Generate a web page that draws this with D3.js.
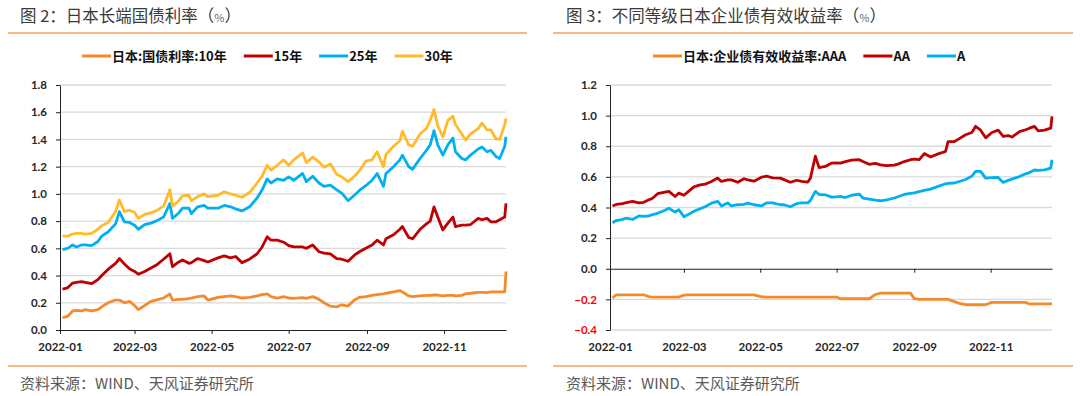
<!DOCTYPE html>
<html>
<head>
<meta charset="utf-8">
<script src="https://cdn.jsdelivr.net/npm/d3@7"></script>
<style>
    body { margin: 0; background: #fff; }
    svg { display: block; }
</style>
</head>
<body>
<svg id="chart" width="1080" height="396"></svg>
<script>
// 图2：日本长端国债利率（%）
const jgbDates = [
    '01-03', '01-07', '01-11', '01-14', '01-18', '01-21', '01-26', '01-31', '02-03', '02-08',
    '02-14', '02-17', '02-21', '02-25', '03-01', '03-04', '03-09', '03-14', '03-18', '03-24',
    '03-29', '03-31', '04-05', '04-08', '04-13', '04-15', '04-20', '04-25', '04-28', '05-06',
    '05-11', '05-16', '05-20', '05-25', '05-31', '06-06', '06-10', '06-14', '06-17', '06-22',
    '06-27', '07-01', '07-05', '07-12', '07-15', '07-20', '07-25', '07-29', '08-03', '08-08',
    '08-12', '08-17', '08-22', '08-26', '08-31', '09-05', '09-09', '09-14', '09-16', '09-22',
    '09-27', '09-29', '10-04', '10-07', '10-13', '10-18', '10-21', '10-24', '10-27', '10-31',
    '11-04', '11-08', '11-10', '11-15', '11-18', '11-22', '11-28', '12-01', '12-05', '12-08',
    '12-12', '12-15', '12-19', '12-20'
];
const jgb10 = [
    0.09, 0.10, 0.14, 0.145, 0.14, 0.15, 0.14, 0.15, 0.17, 0.20,
    0.22, 0.22, 0.20, 0.21, 0.18, 0.15, 0.18, 0.21, 0.22, 0.235,
    0.265, 0.22, 0.225, 0.225, 0.23, 0.235, 0.245, 0.25, 0.22, 0.24,
    0.245, 0.25, 0.245, 0.235, 0.24, 0.25, 0.26, 0.265, 0.245, 0.235,
    0.245, 0.235, 0.233, 0.238, 0.233, 0.245, 0.225, 0.20, 0.175, 0.17,
    0.185, 0.176, 0.22, 0.24, 0.245, 0.255, 0.26, 0.265, 0.27, 0.28,
    0.29, 0.28, 0.25, 0.245, 0.25, 0.255, 0.255, 0.257, 0.257, 0.25,
    0.255, 0.255, 0.25, 0.255, 0.265, 0.27, 0.277, 0.277, 0.275, 0.28,
    0.28, 0.28, 0.28, 0.43
];
const jgb15 = [
    0.30, 0.31, 0.345, 0.35, 0.355, 0.35, 0.34, 0.37, 0.40, 0.445,
    0.49, 0.525, 0.485, 0.45, 0.43, 0.41, 0.43, 0.455, 0.475, 0.52,
    0.56, 0.465, 0.50, 0.515, 0.49, 0.495, 0.525, 0.51, 0.50, 0.53,
    0.545, 0.53, 0.54, 0.495, 0.52, 0.56, 0.61, 0.685, 0.66, 0.66,
    0.645, 0.62, 0.61, 0.61, 0.60, 0.625, 0.575, 0.565, 0.56, 0.525,
    0.52, 0.505, 0.55, 0.575, 0.60, 0.625, 0.66, 0.625, 0.67, 0.70,
    0.74, 0.76, 0.68, 0.67, 0.74, 0.78, 0.80, 0.905, 0.83, 0.735,
    0.785, 0.83, 0.76, 0.77, 0.77, 0.775, 0.82, 0.81, 0.82, 0.795,
    0.795, 0.81, 0.83, 0.93
];
const jgb25 = [
    0.59, 0.60, 0.625, 0.61, 0.625, 0.625, 0.62, 0.65, 0.69, 0.72,
    0.78, 0.87, 0.795, 0.79, 0.77, 0.74, 0.775, 0.785, 0.80, 0.83,
    0.93, 0.82, 0.86, 0.895, 0.895, 0.855, 0.905, 0.915, 0.895, 0.895,
    0.915, 0.905, 0.89, 0.875, 0.905, 0.97, 1.03, 1.11, 1.08, 1.11,
    1.10, 1.125, 1.10, 1.15, 1.09, 1.13, 1.08, 1.055, 1.065, 1.03,
    1.005, 0.95, 0.99, 1.025, 1.06, 1.10, 1.15, 1.055, 1.15, 1.20,
    1.25, 1.285, 1.20, 1.18, 1.26, 1.32, 1.36, 1.465, 1.36, 1.285,
    1.36, 1.41, 1.31, 1.26, 1.25, 1.285, 1.33, 1.345, 1.31, 1.32,
    1.275, 1.26, 1.35, 1.42
];
const jgb30 = [
    0.69, 0.69, 0.705, 0.71, 0.71, 0.705, 0.71, 0.74, 0.765, 0.79,
    0.87, 0.955, 0.87, 0.88, 0.865, 0.82, 0.85, 0.86, 0.875, 0.91,
    1.03, 0.91, 0.95, 0.985, 0.99, 0.95, 0.98, 1.0, 0.98, 0.99,
    1.015, 1.0, 0.99, 0.975, 1.01, 1.08, 1.13, 1.21, 1.175, 1.21,
    1.25, 1.21, 1.25, 1.30, 1.23, 1.27, 1.235, 1.195, 1.22, 1.145,
    1.125, 1.09, 1.13, 1.17, 1.24, 1.25, 1.31, 1.20, 1.29, 1.35,
    1.39, 1.46, 1.36, 1.35, 1.44, 1.48, 1.54, 1.62, 1.50, 1.42,
    1.54, 1.57, 1.51, 1.44, 1.395, 1.44, 1.48, 1.52, 1.47, 1.47,
    1.405, 1.40, 1.51, 1.555
];

// 图3：不同等级日本企业债有效收益率（%）
const corpDates = [
    '01-03', '01-06', '01-11', '01-14', '01-19', '01-24', '01-28', '02-01', '02-04', '02-08',
    '02-14', '02-17', '02-22', '02-25', '03-01', '03-04', '03-09', '03-14', '03-18', '03-23',
    '03-28', '03-31', '04-05', '04-08', '04-13', '04-18', '04-21', '04-26', '05-02', '05-06',
    '05-11', '05-17', '05-20', '05-25', '05-30', '06-03', '06-08', '06-10', '06-14', '06-17',
    '06-22', '06-27', '07-01', '07-04', '07-08', '07-13', '07-19', '07-22', '07-27', '08-01',
    '08-05', '08-10', '08-16', '08-19', '08-24', '08-29', '09-01', '09-05', '09-09', '09-14',
    '09-20', '09-26', '09-28', '10-03', '10-07', '10-12', '10-17', '10-20', '10-24', '10-28',
    '11-02', '11-07', '11-11', '11-15', '11-18', '11-24', '11-29', '12-02', '12-06', '12-09',
    '12-14', '12-19', '12-20'
];
const corpAAA = [
    -0.19, -0.17, -0.17, -0.17, -0.17, -0.17, -0.17, -0.182, -0.185, -0.185,
    -0.185, -0.185, -0.185, -0.185, -0.172, -0.17, -0.17, -0.17, -0.17, -0.17,
    -0.17, -0.17, -0.17, -0.17, -0.17, -0.17, -0.17, -0.17, -0.183, -0.185,
    -0.185, -0.185, -0.185, -0.185, -0.185, -0.185, -0.185, -0.185, -0.185, -0.185,
    -0.185, -0.185, -0.185, -0.196, -0.196, -0.196, -0.196, -0.196, -0.196, -0.168,
    -0.159, -0.159, -0.159, -0.159, -0.159, -0.159, -0.195, -0.20, -0.20, -0.20,
    -0.20, -0.20, -0.20, -0.215, -0.226, -0.235, -0.235, -0.235, -0.235, -0.235,
    -0.22, -0.22, -0.22, -0.22, -0.22, -0.22, -0.22, -0.23, -0.23, -0.23,
    -0.23, -0.23, -0.23
];
const corpAA = [
    0.41, 0.42, 0.426, 0.432, 0.44, 0.43, 0.434, 0.45, 0.46, 0.49,
    0.50, 0.505, 0.472, 0.494, 0.48, 0.50, 0.535, 0.548, 0.552, 0.57,
    0.592, 0.57, 0.58, 0.58, 0.565, 0.588, 0.58, 0.572, 0.598, 0.605,
    0.594, 0.592, 0.582, 0.565, 0.578, 0.57, 0.566, 0.59, 0.735, 0.66,
    0.668, 0.69, 0.692, 0.69, 0.70, 0.71, 0.712, 0.70, 0.682, 0.688,
    0.678, 0.673, 0.677, 0.683, 0.70, 0.712, 0.716, 0.712, 0.752, 0.73,
    0.75, 0.766, 0.83, 0.83, 0.85, 0.875, 0.89, 0.93, 0.905, 0.855,
    0.89, 0.905, 0.864, 0.87, 0.86, 0.895, 0.908, 0.918, 0.93, 0.90,
    0.905, 0.918, 0.995
];
const corpA = [
    0.30, 0.315, 0.323, 0.33, 0.322, 0.345, 0.342, 0.345, 0.353, 0.362,
    0.382, 0.395, 0.37, 0.385, 0.34, 0.352, 0.375, 0.392, 0.405, 0.428,
    0.44, 0.41, 0.43, 0.41, 0.418, 0.42, 0.429, 0.418, 0.41, 0.43,
    0.43, 0.418, 0.418, 0.405, 0.425, 0.43, 0.43, 0.445, 0.505, 0.485,
    0.483, 0.468, 0.47, 0.472, 0.465, 0.48, 0.488, 0.462, 0.455, 0.448,
    0.444, 0.45, 0.462, 0.47, 0.485, 0.492, 0.495, 0.504, 0.512, 0.52,
    0.538, 0.555, 0.558, 0.56, 0.57, 0.583, 0.605, 0.636, 0.636, 0.592,
    0.595, 0.596, 0.564, 0.577, 0.585, 0.602, 0.62, 0.628, 0.645, 0.643,
    0.646, 0.657, 0.712
];

const monthTicks = ['2022-01', '2022-03', '2022-05', '2022-07', '2022-09', '2022-11'];
const jgbYTicks = [0, 0.2, 0.4, 0.6, 0.8, 1.0, 1.2, 1.4, 1.6, 1.8];
const corpYTicks = [-0.4, -0.2, 0, 0.2, 0.4, 0.6, 0.8, 1.0, 1.2];

const ORANGE = '#F58A2C';
const RED = '#C00000';
const BLUE = '#00B0F0';
const GOLD = '#FFBB2C';
const RULE = '#F7A055';       // 标题/来源分隔线
const GRID = '#D9D9D9';
const NUM_FONT = 'Lato, "Open Sans", sans-serif';
const CJK_FONT = '"Noto Sans CJK SC", "Noto Sans", sans-serif';

const PLOT_TOP = 85;
const PLOT_BOTTOM = 330;

const parseDay = d3.timeParse('%Y-%m-%d');
const svg = d3.select('#chart');

/**
 * 画一个面板：标题、分隔线、坐标系、折线、图例、来源
 */
function drawPanel(p) {
    const g = svg.append('g');

    const x = d3.scaleTime()
        .domain([parseDay('2022-01-01'), parseDay('2022-12-20')])
        .range([p.left, p.right]);
    const y = d3.scaleLinear()
        .domain(p.yDomain)
        .range([PLOT_BOTTOM, PLOT_TOP]);

    // 标题
    const title = g.append('text')
        .attr('x', p.titleX).attr('y', 22)
        .attr('font-family', CJK_FONT).attr('font-size', 16.5)
        .attr('fill', '#3a3a3a');
    title.append('tspan').text(p.title);
    title.append('tspan').attr('font-size', 11).attr('fill', '#5a6a8a').text('%');
    title.append('tspan').text('）');

    // 上下分隔线
    [33, 366].forEach(yy => {
        g.append('line')
            .attr('x1', p.ruleX[0]).attr('x2', p.ruleX[1])
            .attr('y1', yy).attr('y2', yy)
            .attr('stroke', RULE).attr('stroke-width', 1.5);
    });

    // 资料来源
    g.append('text')
        .attr('x', p.titleX).attr('y', 389)
        .attr('font-family', CJK_FONT).attr('font-size', 15)
        .attr('fill', '#595959')
        .text('资料来源：WIND、天风证券研究所');

    // 网格线
    g.append('g').selectAll('line')
        .data(p.yTicks.filter(v => v !== 0))
        .join('line')
        .attr('x1', p.left).attr('x2', p.right)
        .attr('y1', d => y(d)).attr('y2', d => y(d))
        .attr('stroke', GRID).attr('stroke-width', 1.3);

    // Y轴
    const yAxis = g.append('g')
        .attr('transform', `translate(${p.left},0)`)
        .call(d3.axisLeft(y).tickValues(p.yTicks).tickSize(4).tickSizeOuter(0)
            .tickPadding(9).tickFormat(d3.format('.1f')));
    yAxis.select('.domain').attr('stroke', '#222');
    yAxis.selectAll('.tick line').attr('stroke', '#222');
    yAxis.selectAll('.tick text')
        .attr('font-family', NUM_FONT).attr('font-size', 11.5).attr('font-weight', 'bold')
        .attr('fill', d => d < 0 ? '#FF0000' : '#262626');

    // X轴（在0处）
    const monthDates = monthTicks.map(m => parseDay(m + '-01'));
    const xAxis = g.append('g')
        .attr('transform', `translate(0,${y(0)})`)
        .call(d3.axisBottom(x).tickValues(monthDates).tickSize(4).tickSizeOuter(0).tickFormat(''));
    xAxis.select('.domain').attr('stroke', '#222').attr('stroke-width', 1.2);
    xAxis.selectAll('.tick line').attr('stroke', '#222');

    // X轴标签（在底部）
    const xLabels = g.append('g')
        .attr('transform', `translate(0,${PLOT_BOTTOM})`)
        .call(d3.axisBottom(x).tickValues(monthDates).tickSize(0).tickPadding(13)
            .tickFormat(d3.timeFormat('%Y-%m')));
    xLabels.select('.domain').remove();
    xLabels.selectAll('.tick text')
        .attr('font-family', NUM_FONT).attr('font-size', 11.5).attr('font-weight', 'bold')
        .attr('fill', '#262626');

    // 折线
    const dates = p.dates.map(s => parseDay('2022-' + s));
    const line = d3.line()
        .x((d, i) => x(dates[i]))
        .y(d => y(d));
    p.series.forEach(s => {
        g.append('path')
            .attr('fill', 'none')
            .attr('stroke', s.color)
            .attr('stroke-width', 2.8)
            .attr('stroke-linejoin', 'round')
            .attr('d', line(s.values));
    });

    // 图例
    let lx = p.legendX;
    p.series.forEach(s => {
        g.append('line')
            .attr('x1', lx).attr('x2', lx + 29)
            .attr('y1', 56).attr('y2', 56)
            .attr('stroke', s.color).attr('stroke-width', 3);
        const t = g.append('text')
            .attr('x', lx + 30).attr('y', 60.5)
            .attr('font-family', CJK_FONT).attr('font-size', 13).attr('font-weight', 'bold')
            .attr('fill', '#111')
            .text(s.name);
        lx += 30 + t.node().getComputedTextLength() + 17;
    });
}

drawPanel({
    title: '图 2：日本长端国债利率（',
    titleX: 20,
    ruleX: [8, 527],
    left: 60,
    right: 506,
    yDomain: [0, 1.8],
    yTicks: jgbYTicks,
    dates: jgbDates,
    legendX: 82,
    series: [
        { name: '日本:国债利率:10年', color: ORANGE, values: jgb10 },
        { name: '15年', color: RED, values: jgb15 },
        { name: '25年', color: BLUE, values: jgb25 },
        { name: '30年', color: GOLD, values: jgb30 }
    ]
});

drawPanel({
    title: '图 3：不同等级日本企业债有效收益率（',
    titleX: 566,
    ruleX: [553, 1073],
    left: 610,
    right: 1052,
    yDomain: [-0.4, 1.2],
    yTicks: corpYTicks,
    dates: corpDates,
    legendX: 653,
    series: [
        { name: '日本:企业债有效收益率:AAA', color: ORANGE, values: corpAAA },
        { name: 'AA', color: RED, values: corpAA },
        { name: 'A', color: BLUE, values: corpA }
    ]
});
</script>
</body>
</html>
